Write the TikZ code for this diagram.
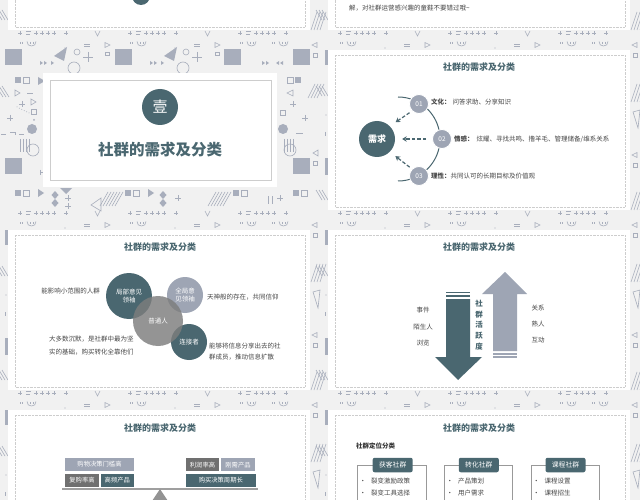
\documentclass[tikz,border=0pt]{standalone}
\usepackage{fontspec}
\setmainfont{Noto Sans CJK SC}
\usetikzlibrary{arrows.meta}
\definecolor{dteal}{RGB}{74,103,112}
\definecolor{gblue}{RGB}{158,165,180}
\definecolor{mgray}{RGB}{125,125,125}
\definecolor{dgray}{RGB}{112,112,112}
\definecolor{bgc}{RGB}{241,241,241}
\definecolor{patc}{RGB}{168,174,188}
\definecolor{txt}{RGB}{70,70,70}
\definecolor{brd}{RGB}{205,205,205}
\begin{document}
\begin{tikzpicture}[x=1pt,y=-1pt,
 pf/.style={fill=patc},
 pl/.style={draw=patc,line width=0.6pt},
 ttl/.style={font=\fontsize{9}{11}\selectfont\bfseries,text=dteal,inner sep=0},
 bd/.style={font=\fontsize{6.5}{8}\selectfont,text=txt,inner sep=0},
 num/.style={circle,fill=gblue,draw=white,line width=0.8pt,minimum size=19pt,inner sep=0,text=white,font=\fontsize{6.5}{7}\selectfont},
 darr/.style={draw=dteal,line width=1.2pt,dash pattern=on 3.5pt off 2pt,-{Stealth[length=4.5pt,width=5.5pt]}},
 bub/.style={circle,inner sep=0,text=white,align=center,font=\fontsize{6.5}{8}\selectfont},
 bx/.style={inner sep=0,text=white,font=\fontsize{6.3}{7}\selectfont},
 tab/.style={rounded corners=2pt,fill=dteal,inner sep=0,minimum width=40pt,minimum height=14.5pt,text=white,font=\fontsize{6.8}{8}\selectfont},
 cbox/.style={draw=gray!80,line width=0.6pt},
]
\fill[bgc] (0,0) rectangle (640,500);
\useasboundingbox (0,0) rectangle (640,500);

% ---------- common strips of every slide ----------
\foreach \x/\y in {0/-140,320/-140,0/40,320/40,0/220,320/220,0/400,320/400}{
  \foreach \c in {20,130,240,272}{
    \draw[pl] (\x+\c,\y+2) -- (\x+\c,\y+4) (\x+\c+2.5,\y+2) -- (\x+\c+2.5,\y+4);
    \draw[pl] (\x+\c+7,\y+1.5) .. controls (\x+\c+6.5,\y+7.5) and (\x+\c+16.5,\y+7.5) .. (\x+\c+16,\y+1.5);
    \draw[pl] (\x+\c+10,\y+2) -- (\x+\c+10,\y+4) (\x+\c+13,\y+2) -- (\x+\c+13,\y+4);
  }
  \foreach \c in {87,197}{
    \draw[pl] (\x+\c-3,\y+4) -- (\x+\c+3,\y+4) (\x+\c-3,\y+6.5) -- (\x+\c+3,\y+6.5);
    \draw[pl] (\x+\c+18,\y+2.5) -- (\x+\c+23,\y+5) -- (\x+\c+18,\y+7.5) -- cycle;
  }
  \fill[pf] (\x+65,\y+8) circle[radius=0.6];
  \fill[pf] (\x+175,\y+8) circle[radius=0.6];
  \draw[pl] (\x+317,\y+2.5) -- (\x+312,\y+5) -- (\x+317,\y+7.5) -- cycle;
  \draw[pl] (\x+313,\y+13) rectangle (\x+317,\y+17);
  \foreach \c in {20,130,240}{
    \foreach \d in {0,16,22,28,34,46}{
      \draw[pl] (\x+\c+\d-1.8,\y+173) -- (\x+\c+\d+1.8,\y+173) (\x+\c+\d,\y+171.2) -- (\x+\c+\d,\y+174.8);
    }
    \draw[pl] (\x+\c+6,\y+171) -- (\x+\c+11,\y+171) (\x+\c+6,\y+174) -- (\x+\c+10,\y+174);
  }
  \draw[pl] (\x+95,\y+171) -- (\x+97.5,\y+176) -- (\x+100,\y+171);
  \draw[pl] (\x+205,\y+171) -- (\x+207.5,\y+176) -- (\x+210,\y+171);
}

% ---------- content slides: side strips and panels ----------
\foreach \x/\y in {0/-140,320/-140,320/40,0/220,320/220,0/400,320/400}{
  \fill[pf] (\x+5,\y+10) rectangle (\x+8,\y+25);
  \fill[pf] (\x+5,\y+118) rectangle (\x+8,\y+135);
  \foreach \k in {0,3,6}{
    \draw[pl] (\x+\k-4,\y+46) -- (\x+\k+2,\y+56);
    \draw[pl] (\x+\k-4,\y+150) -- (\x+\k+2,\y+160);
  }
  \fill[pf] (\x+6,\y+75) circle[radius=0.6];
  \draw[pl] (\x+5,\y+92) -- (\x+5,\y+96);
  \foreach \k in {0,3,6,9}{
    \draw[pl] (\x+311+\k,\y+62) -- (\x+317+\k,\y+44);
    \draw[pl] (\x+311+\k,\y+170) -- (\x+317+\k,\y+152);
  }
  \draw[pl] (\x+313,\y+72) -- (\x+320,\y+70) -- (\x+318,\y+88) -- cycle;
  \draw[pl] (\x+317,\y+112.5) -- (\x+312,\y+115) -- (\x+317,\y+117.5) -- cycle;
  \draw[pl] (\x+313,\y+123) rectangle (\x+317,\y+127);
  \fill[white] (\x+8,\y+10) rectangle (\x+310,\y+170);
  \draw[brd,line width=0.5pt,dash pattern=on 0.7pt off 0.7pt] (\x+15,\y+15) rectangle (\x+305,\y+167);
}

% ---------- cover pattern ----------
\foreach \a/\b in {5/49,115/49,224/49,293/49,5/158,293/158} \fill[pf] (\a,\b) rectangle ++(17,16);
\foreach \a in {60,170} \fill[pf] (\a-6,56) -- (\a+7,47) -- (\a+4,61) -- cycle;
\foreach \a in {77,186} \draw[pl] (\a,52) circle[radius=3];
\foreach \a in {88,197}{
  \draw[pl] (\a-5,57) -- (\a+5,57) (\a,52) -- (\a,62);
}
\foreach \a in {74,183} \draw[pl] (\a,68) circle[radius=6];
\foreach \a in {107,217} \draw[pl] (\a-1.5,52) rectangle (\a+2,55.5);
\foreach \a in {40,44,51,150,154,161,262,266} \fill[pf] (\a,61) -- (\a+3,63) -- (\a,65) -- cycle;
\foreach \a in {276,280} \fill[pf] (\a+3,61) -- (\a,63) -- (\a+3,65) -- cycle;
% cover left strip
\fill[pf] (15,77) rectangle (21,83); \draw[pl] (23.5,77.5) rectangle (29,83);
\fill[pf] (38,77) -- (45,81) -- (38,85) -- cycle;
\foreach \k in {0,3,6} \draw[pl] (\k-4,86) -- (\k+3,97);
\draw[pl] (15,90) -- (20,93) -- (15,96) -- cycle;
\draw[pl] (27,93) -- (33,93);
\draw[pl] (19,104) -- (25,104) (22,101) -- (22,107);
\draw[pl] (31,99) -- (36,102) -- (31,105) -- cycle;
\foreach \k in {0,1,...,5} \fill[pf] (17+2.4*\k,107+1.2*\k) circle[radius=0.5];
\draw[pl] (31,109) rectangle (36,114);
\draw[pl] (7,118) -- (13,118) (10,115) -- (10,121);
\fill[pf] (34,120) circle[radius=1];
\draw[pl] (1,134) -- (6,134) (10,132) -- (15,132) -- (15,135) (19,134) -- (24,134);
\fill[pf] (32,129) circle[radius=5];
\foreach \k in {20,23,26,29} \draw[pl] (\k,139) -- (\k,152);
\draw[pl] (33,150) circle[radius=6];
\draw[pl] (40,170) -- (40,175) (40,172.5) -- (45,172.5) (45,170) -- (45,175);
% cover right strip
\draw[pl] (287.5,77.5) rectangle (293,83); \fill[pf] (295,77) rectangle (301,83);
\foreach \k in {0,3,6,9} \draw[pl] (308+\k,98) -- (315+\k,84);
\draw[pl] (293,90) -- (287,93) -- (293,96) -- cycle;
\draw[pl] (290,104) -- (296,104) (293,101) -- (293,107);
\draw[pl] (280,110) rectangle (285,115);
\draw[pl] (302,118) -- (308,118) (305,115) -- (305,121);
\fill[pf] (283,129) circle[radius=5];
\draw[pl] (296,133) -- (303,133);
\foreach \k in {284,287,290,293} \draw[pl] (\k,139) -- (\k,152);
\draw[pl] (290,150) circle[radius=6];
\draw[pl] (318,150) -- (313,153) -- (318,156) -- cycle;
\draw[pl] (313,161) rectangle (317,165);
% cover bottom
\foreach \a in {15,125,233,293}{ \fill[pf] (\a,190) rectangle ++(6,6); \draw[pl] (\a+8.5,190.5) rectangle ++(5.5,5.5); }
\foreach \a in {40,150} \fill[pf] (\a-2,189) -- (\a+4,193) -- (\a-2,197) -- cycle;
\fill[pf] (60,188) -- (72,188) -- (66,194) -- cycle;
\foreach \a/\b in {55/195,55/203,163/195,163/203} \fill[pf] (\a,\b-4) -- (\a+3.5,\b) -- (\a,\b+4) -- (\a-3.5,\b) -- cycle;
\foreach \a/\b in {68/198,68/206,178/198,280/198} \draw[pl] (\a-3,\b) -- (\a+3,\b) (\a,\b-3) -- (\a,\b+3);
\foreach \k in {0,3,6,9,12,15}{ \draw[pl] (100+\k,206) -- (108+\k,192); \draw[pl] (208+\k,206) -- (216+\k,192); }
\draw[pl] (101,198) -- (91,205) -- (101,211) -- cycle;
\draw[pl] (268,196) -- (268,204) (272,196) -- (272,204);

% ---------- cover ----------
\fill[white] (43,73) rectangle (277,187);
\draw[brd,line width=0.5pt] (50,80) rectangle (271,180);
\node[circle,fill=dteal,minimum size=36pt,inner sep=0,text=white,font=\fontsize{15}{15}\selectfont] (yi) at (160,107) {壹};
\node[font=\fontsize{15.5}{16}\selectfont\bfseries,text=dteal,inner sep=0] (ctitle) at (160,150) {社群的需求及分类};

% ---------- row 1 ----------
\fill[dteal] (141,-4) circle[radius=9];
\node[bd,anchor=west] (intro) at (349,8) {解，对社群运营感兴趣的童鞋不要错过哦\textasciitilde};

% ---------- row 2 right: needs ----------
\node[ttl] (t2) at (479,67) {社群的需求及分类};
\node[circle,fill=dteal,minimum size=36pt,inner sep=0,text=white,font=\fontsize{9}{9}\selectfont\bfseries] (need) at (377,139) {需求};
\draw[dteal,line width=1pt] plot[domain=-90:90,samples=60,variable=\t] ({398+42*cos(\t)},{139+42*sin(\t)});
\node[num] (n1) at (419,104) {01};
\node[num] (n2) at (442,139) {02};
\node[num] (n3) at (419,176) {03};
\draw[darr,shorten <=3pt,shorten >=7pt] (n1.south west) -- (need.north east);
\draw[darr,shorten <=6pt,shorten >=7pt] (n2) -- (need);
\draw[darr,shorten <=3pt,shorten >=7pt] (n3.north west) -- (need.south east);
\node[bd,anchor=west] (w1) at (431,102) {\textbf{文化：}\hspace{2pt}问答求助、分享知识};
\node[bd,anchor=west] (w2) at (454,139) {\textbf{情感：}\hspace{3pt}炫耀、寻找共鸣、撸羊毛、管理储备/维系关系};
\node[bd,anchor=west] (w3) at (431,176) {\textbf{理性：}共同认可的长期目标及价值观};

% ---------- row 3 left: roles ----------
\node[ttl] (t3) at (160,247) {社群的需求及分类};
\node[bub,fill=dteal,minimum size=46pt] (jb) at (129,296) {局部意见\\领袖};
\node[bub,fill=gblue,minimum size=36pt] (qj) at (185,295) {全局意\\见领袖};
\node[bub,fill=dteal,minimum size=36pt] (lj) at (189,342) {连接者};
\node[bub,fill=mgray,fill opacity=0.82,text opacity=1,minimum size=50pt] (pt) at (158,321) {普通人};
\node[bd,anchor=east] (d1) at (100,291) {能影响小范围的人群};
\node[bd,anchor=west] (d2) at (207,297) {天神般的存在，共同信仰};
\node[bd,anchor=west,align=left,font=\fontsize{6.5}{12.5}\selectfont] (d3) at (49,345.5) {大多数沉默，是社群中最为坚\\实的基础，购买转化全靠他们};
\node[bd,anchor=west,align=left,font=\fontsize{6.5}{11.5}\selectfont] (d4) at (209,351.5) {能够将信息分享出去的社\\群成员，推动信息扩散};

% ---------- row 3 right: activity arrows ----------
\node[ttl] (t4) at (479,247) {社群的需求及分类};
\fill[dteal] (446,299) -- (470,299) -- (470,357) -- (482,357) -- (458,380) -- (435,357) -- (446,357) -- cycle;
\fill[dteal] (446,291.5) rectangle (470,293.2);
\fill[dteal] (446,294.8) rectangle (470,297.2);
\fill[gblue] (505,272) -- (527,294) -- (517,294) -- (517,351) -- (493,351) -- (493,294) -- (482,294) -- cycle;
\fill[gblue] (493,352.8) rectangle (517,354.5);
\fill[gblue] (493,356.3) rectangle (517,358);
\node[inner sep=0,align=center,text=dteal,font=\fontsize{7.5}{10.7}\selectfont\bfseries] (hy) at (479,325) {社\\群\\活\\跃\\度};
\node[bd] (l1) at (423,310) {事件};
\node[bd] (l2) at (423,327) {陌生人};
\node[bd] (l3) at (423,343) {浏览};
\node[bd] (r1) at (538,308) {关系};
\node[bd] (r2) at (538,324) {熟人};
\node[bd] (r3) at (538,340) {互动};

% ---------- row 4 left: balance ----------
\node[ttl] (t5) at (160,428) {社群的需求及分类};
\node[bx,fill=gblue,minimum width=69pt,minimum height=13.5pt] (b1) at (99.5,464.5) {购物决策门槛高};
\node[bx,fill=dgray,minimum width=34pt,minimum height=13pt] (b2) at (82,480.2) {复购率高};
\node[bx,fill=dteal,minimum width=33.3pt,minimum height=13pt] (b3) at (117.3,480.2) {高频产品};
\node[bx,fill=dgray,minimum width=33.6pt,minimum height=12.7pt] (b4) at (202.5,464.7) {利润率高};
\node[bx,fill=gblue,minimum width=34pt,minimum height=12.7pt] (b5) at (238,464.7) {刚需产品};
\node[bx,fill=dteal,minimum width=70.3pt,minimum height=13pt] (b6) at (220.8,480.2) {购买决策周期长};
\draw[gray!75,line width=1.5pt] (62,489) -- (258,489);
\fill[gray!85] (160,489) -- (174,510) -- (146,510) -- cycle;

% ---------- row 4 right: positioning ----------
\node[ttl] (t6) at (479,428) {社群的需求及分类};
\node[bd,anchor=west,text=black!80,font=\fontsize{6.5}{8}\selectfont\bfseries] (pos) at (356,445.7) {社群定位分类};
\draw[cbox] (357.7,465) rectangle (426.7,520);
\draw[cbox] (444.3,465) rectangle (512.7,520);
\draw[cbox] (531,465) rectangle (599.3,520);
\node[tab] (c1) at (392.7,465) {获客社群};
\node[tab] (c2) at (478.8,465) {转化社群};
\node[tab] (c3) at (565.5,465) {课程社群};
\node[bd,anchor=west] (c1a) at (359.5,481) {•\hspace{5pt}裂变激励政策};
\node[bd,anchor=west] (c1b) at (359.5,493.3) {•\hspace{5pt}裂变工具选择};
\node[bd,anchor=west] (c2a) at (446.5,481) {•\hspace{5pt}产品策划};
\node[bd,anchor=west] (c2b) at (446.5,493.3) {•\hspace{5pt}用户需求};
\node[bd,anchor=west] (c3a) at (533,481) {•\hspace{5pt}课程设置};
\node[bd,anchor=west] (c3b) at (533,493.3) {•\hspace{5pt}课程招生};
\end{tikzpicture}
\end{document}
